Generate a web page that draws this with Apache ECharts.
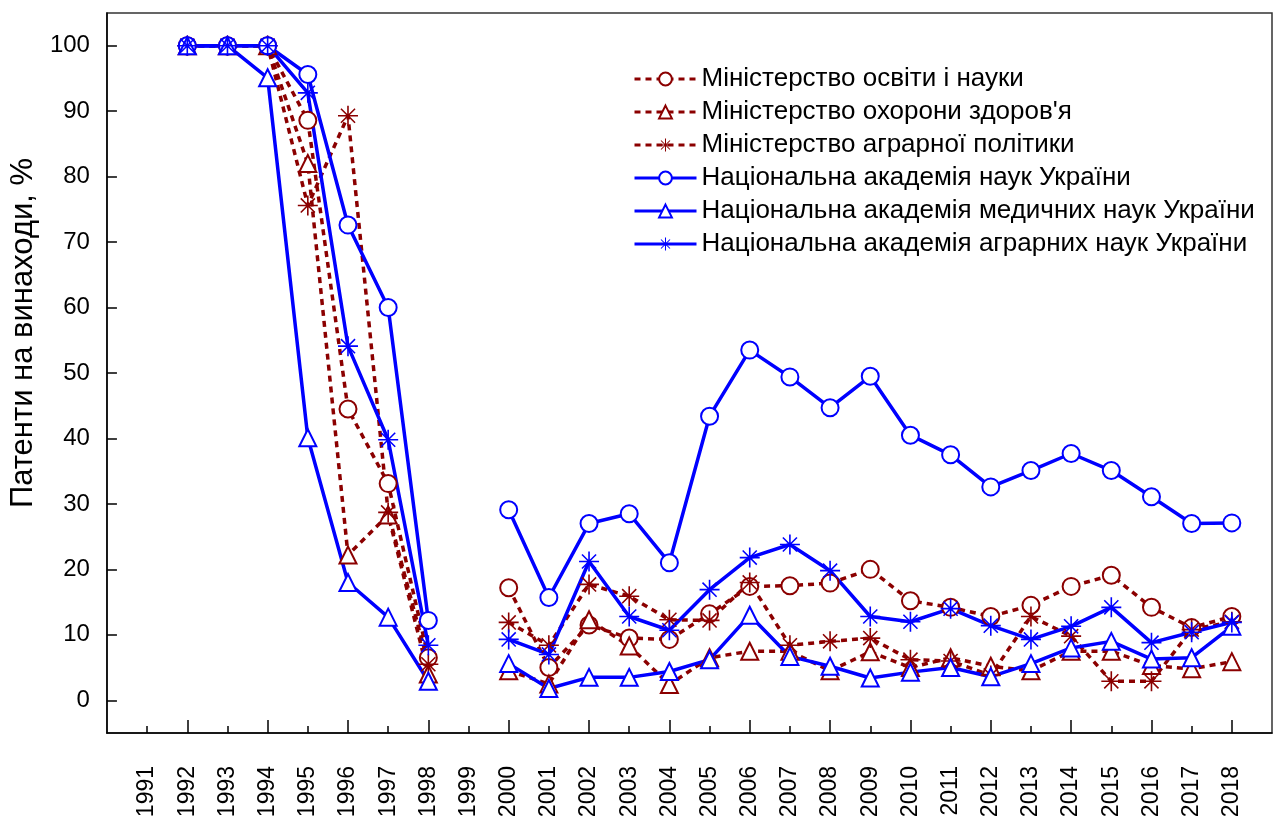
<!DOCTYPE html>
<html>
<head>
<meta charset="utf-8">
<title>Патенти на винаходи</title>
<script src="https://cdn.jsdelivr.net/npm/echarts@6/dist/echarts.min.js"></script>
<style>
    html, body { margin: 0; padding: 0; background: #fff; }
    #main { width: 1280px; height: 821px; }
</style>
</head>
<body>
<div id="main"></div>
<script>
// роки
var years = [1991, 1992, 1993, 1994, 1995, 1996, 1997, 1998, 1999, 2000, 2001, 2002, 2003, 2004,
    2005, 2006, 2007, 2008, 2009, 2010, 2011, 2012, 2013, 2014, 2015, 2016, 2017, 2018];
var yTicks = [0, 10, 20, 30, 40, 50, 60, 70, 80, 90, 100];

// Міністерство освіти і науки
var mon = [null, 100, 100, 100, 88.6, 44.5, 33.1, 6.5, null, 17.2, 5.0, 11.5, 9.5, 9.3,
    13.2, 17.4, 17.5, 17.9, 20.0, 15.2, 14.2, 12.8, 14.5, 17.4, 19.1, 14.2, 11.1, 12.8];
// Міністерство охорони здоров'я
var moz = [null, 100, 100, 100, 82.0, 22.2, 28.3, 4.0, null, 4.5, 2.5, 12.3, 8.3, 2.4,
    6.5, 7.5, 7.5, 4.5, 7.4, 5.0, 6.5, 5.2, 4.5, 7.5, 7.5, 5.3, 4.8, 5.9];
// Міністерство аграрної політики
var map = [null, 100, 100, 100, 75.6, 89.3, 28.7, 5.5, null, 11.9, 8.4, 17.7, 15.9, 12.3,
    12.2, 18.0, 8.4, 9.0, 9.5, 6.2, 6.0, 3.8, 12.8, 9.8, 2.9, 2.9, 10.8, 12.0];
// Національна академія наук України
var nan = [null, 100, 100, 100, 95.6, 72.6, 60.0, 12.2, null, 29.1, 15.7, 27.0, 28.5, 21.0,
    43.4, 53.5, 49.4, 44.7, 49.5, 40.5, 37.5, 32.6, 35.1, 37.7, 35.1, 31.1, 27.0, 27.1];
// Національна академія медичних наук України
var namn = [null, 100, 100, 95.1, 40.1, 18.0, 12.7, 2.9, null, 5.6, 1.8, 3.5, 3.5, 4.4,
    6.2, 13.0, 6.7, 5.2, 3.4, 4.3, 5.0, 3.6, 5.6, 8.0, 9.0, 6.3, 6.5, 11.3];
// Національна академія аграрних наук України
var naan = [null, 100, 100, 100, 92.8, 54.1, 39.8, 8.4, null, 9.3, 7.0, 21.2, 12.8, 10.7,
    16.9, 21.8, 23.8, 19.8, 12.8, 12.0, 14.0, 11.4, 9.3, 11.3, 14.2, 8.8, 10.4, 11.9];

var names = [
    'Міністерство освіти і науки',
    "Міністерство охорони здоров'я",
    'Міністерство аграрної політики',
    'Національна академія наук України',
    'Національна академія медичних наук України',
    'Національна академія аграрних наук України'
];

var RED = '#8b0000';
var BLUE = '#0000ff';
var FONT = 'Arial, "Liberation Sans", sans-serif';
var STAR = 'path://M0 9.2L20 9.2L20 10.8L0 10.8Z M9.2 0L10.8 0L10.8 20L9.2 20Z ' +
    'M2.4 3.5L3.5 2.4L17.6 16.5L16.5 17.6Z M16.5 2.4L17.6 3.5L3.5 17.6L2.4 16.5Z';

var evenYears = years.filter(function(y) { return y % 2 === 0; });
var oddYears = years.filter(function(y) { return y % 2 === 1; });

function pairs(vals) {
    return years.map(function(y, i) { return [y, vals[i]]; });
}

function line(name, vals, color, dashed, symbol) {
    var star = symbol === STAR;
    return {
        name: name,
        type: 'line',
        data: pairs(vals),
        connectNulls: false,
        symbol: symbol,
        symbolSize: star ? 20 : 17,
        lineStyle: { color: color, width: 3.5, type: dashed ? [6, 5] : 'solid' },
        itemStyle: star ? { color: color, borderWidth: 0 } : { color: color, borderColor: color, borderWidth: 1.5 },
        emphasis: { disabled: true },
        animation: false
    };
}

var myChart = echarts.init(document.getElementById('main'));

var option = {
    backgroundColor: '#fff',
    textStyle: { fontFamily: FONT },
    grid: {
        left: 106, right: 8, top: 13, bottom: 88,
        show: true, borderColor: '#333', borderWidth: 1.5
    },
    legend: {
        orient: 'vertical',
        left: 633,
        top: 66,
        padding: 0,
        itemWidth: 62,
        itemHeight: 16,
        itemGap: 7,
        data: names,
        lineStyle: { width: 3 },
        textStyle: { fontSize: 26, lineHeight: 26, color: '#000', fontFamily: FONT }
    },
    xAxis: [{
        type: 'value',
        min: 1990,
        max: 2019,
        axisLine: { onZero: false, lineStyle: { color: '#000', width: 1.5 } },
        axisTick: { inside: true, length: 13, customValues: evenYears, lineStyle: { color: '#000', width: 1.5 } },
        axisLabel: {
            customValues: years, rotate: 90, margin: 33,
            fontSize: 23, color: '#000', fontFamily: FONT,
            formatter: function(v) { return String(v); }
        },
        splitLine: { show: false }
    }, {
        type: 'value',
        position: 'bottom',
        min: 1990,
        max: 2019,
        axisLine: { show: false, onZero: false },
        axisTick: { inside: true, length: 7, customValues: oddYears, lineStyle: { color: '#000', width: 1.5 } },
        axisLabel: { show: false },
        splitLine: { show: false }
    }],
    yAxis: {
        type: 'value',
        min: -5,
        max: 105,
        name: 'Патенти на винаходи, %',
        nameLocation: 'middle',
        nameGap: 57,
        nameTextStyle: { fontSize: 31, color: '#000', fontFamily: FONT, padding: [0, 0, 0, 80] },
        axisLine: { show: true, lineStyle: { color: '#000', width: 1.5 } },
        axisTick: { show: true, inside: true, length: 10, customValues: yTicks, lineStyle: { color: '#000', width: 1.5 } },
        axisLabel: { customValues: yTicks, margin: 17, fontSize: 24, color: '#000', fontFamily: FONT },
        splitLine: { show: false }
    },
    series: [
        line(names[0], mon, RED, true, 'emptyCircle'),
        line(names[1], moz, RED, true, 'emptyTriangle'),
        line(names[2], map, RED, true, STAR),
        line(names[3], nan, BLUE, false, 'emptyCircle'),
        line(names[4], namn, BLUE, false, 'emptyTriangle'),
        line(names[5], naan, BLUE, false, STAR)
    ]
};

myChart.setOption(option);
</script>
</body>
</html>
